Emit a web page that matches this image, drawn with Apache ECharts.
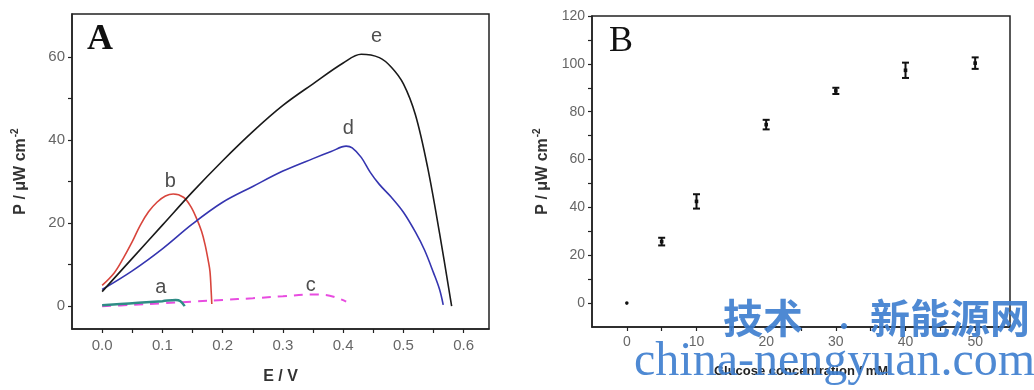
<!DOCTYPE html>
<html>
<head>
<meta charset="utf-8">
<script src="https://cdn.jsdelivr.net/npm/echarts@6/dist/echarts.min.js"></script>
<style>
html,body{margin:0;padding:0;background:#fff;}
#chart{width:1034px;height:390px;}
</style>
</head>
<body>
<div id="chart"></div>
<script>
// ---------- Panel A data (E / V , P / µW cm^-2) ----------
const curveA = [[0,0.2],[0.03,0.5],[0.06,0.8],[0.1,1.2],[0.122,1.5],[0.13,1.2],[0.137,0]];
const curveB = [[0,5],[0.02,8],[0.035,11.5],[0.05,15.5],[0.063,19.4],[0.077,22.7],[0.091,25],[0.105,26.5],[0.118,27],[0.135,26.2],[0.147,24],[0.157,21],[0.165,18],[0.171,14.7],[0.176,11],[0.179,8.3],[0.181,3.5],[0.182,0.5]];
const curveC = [[0,0],[0.05,0.3],[0.1,0.7],[0.15,1.1],[0.2,1.5],[0.25,1.9],[0.3,2.4],[0.35,2.8],[0.37,2.7],[0.39,2],[0.405,1.1]];
const curveD = [[0,4],[0.05,8.5],[0.1,13.8],[0.15,19.8],[0.2,25],[0.25,28.8],[0.3,32.5],[0.35,35.5],[0.38,37.2],[0.405,38.5],[0.415,38.1],[0.43,35.8],[0.445,32.2],[0.46,29.3],[0.48,26.2],[0.5,22.6],[0.52,17.8],[0.535,13.5],[0.55,8],[0.56,4],[0.566,0.3]];
const curveE = [[0,3.5],[0.05,11.5],[0.1,19.5],[0.15,27.5],[0.2,35],[0.25,42],[0.3,48.3],[0.35,53.5],[0.4,58.5],[0.43,60.6],[0.46,59.8],[0.48,57.5],[0.5,53.5],[0.52,46],[0.54,33.5],[0.56,17.5],[0.58,0]];
const curveNames = ['a','b','c','d','e'];
const curveLabelPos = [[0.0975,4.4],[0.113,30],[0.346,5],[0.4085,42.8],[0.4555,65]];
const aXTicks = [0,0.05,0.1,0.15,0.2,0.25,0.3,0.35,0.4,0.45,0.5,0.55,0.6];
const aXLabels = [0,0.1,0.2,0.3,0.4,0.5,0.6];
const aYTicks = [0,10,20,30,40,50,60];
const aYLabels = [0,20,40,60];

// ---------- Panel B data ----------
const concB = [0,5,10,20,30,40,50];
const powerB = [0,25.7,42.5,74.6,88.7,97.3,100.3];
const errB = [0,1.6,3,2,1.3,3.2,2.4];
const bXTicks = [0,5,10,15,20,25,30,35,40,45,50];
const bXLabels = [0,10,20,30,40,50];
const bYTicks = [0,10,20,30,40,50,60,70,80,90,100,110,120];
const bYLabels = [0,20,40,60,80,100,120];

const chart = echarts.init(document.getElementById('chart'), null, {renderer:'canvas'});

const axisLineStyle = {color:'#222', width:1.5};
const tickLabelStyle = {color:'#666', fontFamily:'Arial, Liberation Sans, sans-serif'};
const nameStyle = {color:'#333', fontWeight:'bold', fontSize:16, fontFamily:'Arial, Liberation Sans, sans-serif'};
const yNameRich = {
  rich:{
    t:{color:'#333', fontWeight:'bold', fontSize:16, fontFamily:'Arial, Liberation Sans, sans-serif', lineHeight:22},
    s:{color:'#333', fontWeight:'bold', fontSize:10, fontFamily:'Arial, Liberation Sans, sans-serif', verticalAlign:'top', lineHeight:22, padding:[0,0,0,1]}
  }
};

const errData = concB.map((x,i)=>[x, powerB[i], errB[i]]);

const option = {
  backgroundColor:'#fff',
  animation:false,
  grid:[
    {left:72, top:14, width:417, height:317, show:true, borderColor:'#222', borderWidth:1.5, containLabel:false},
    {left:592, top:16, width:418, height:311, show:true, borderColor:'#222', borderWidth:1.5, containLabel:false}
  ],
  xAxis:[
    {type:'value', gridIndex:0, min:-0.05, max:0.642,
     name:'E / V', nameLocation:'middle', nameGap:40, nameTextStyle:nameStyle,
     axisLine:{show:true, onZero:false, lineStyle:axisLineStyle},
     axisTick:{show:true, inside:false, length:4, lineStyle:{color:'#222', width:1.2}, customValues:aXTicks},
     axisLabel:{...tickLabelStyle, fontSize:15, margin:9, customValues:aXLabels, formatter:v=>Number(v).toFixed(1)},
     splitLine:{show:false}},
    {type:'value', gridIndex:1, min:-5, max:55,
     name:'Glucose concentration / mM', nameLocation:'middle', nameGap:38,
     nameTextStyle:{color:'#222', fontWeight:'bold', fontSize:13, fontFamily:'Arial, Liberation Sans, sans-serif'},
     axisLine:{show:true, onZero:false, lineStyle:axisLineStyle},
     axisTick:{show:true, inside:false, length:4, lineStyle:{color:'#222', width:1.2}, customValues:bXTicks},
     axisLabel:{...tickLabelStyle, fontSize:14, margin:8, customValues:bXLabels},
     splitLine:{show:false}}
  ],
  yAxis:[
    {type:'value', gridIndex:0, min:-5.5, max:70.3,
     name:'{t|P / μW cm}{s|-2}', nameLocation:'middle', nameGap:40, nameRotate:90, nameTextStyle:yNameRich,
     axisLine:{show:true, onZero:false, lineStyle:axisLineStyle},
     axisTick:{show:true, inside:false, length:4, lineStyle:{color:'#222', width:1.2}, customValues:aYTicks},
     axisLabel:{...tickLabelStyle, fontSize:15, margin:7, customValues:aYLabels},
     splitLine:{show:false}},
    {type:'value', gridIndex:1, min:-10, max:120,
     name:'{t|P / μW cm}{s|-2}', nameLocation:'middle', nameGap:38, nameRotate:90, nameTextStyle:yNameRich,
     axisLine:{show:true, onZero:false, lineStyle:axisLineStyle},
     axisTick:{show:true, inside:false, length:4, lineStyle:{color:'#222', width:1.2}, customValues:bYTicks},
     axisLabel:{...tickLabelStyle, fontSize:14, margin:7, customValues:bYLabels},
     splitLine:{show:false}}
  ],
  series:[
    {type:'line', name:'c', xAxisIndex:0, yAxisIndex:0, data:curveC, showSymbol:false, smooth:0.35,
     lineStyle:{color:'#e84ce0', width:2, type:[9,7]}, z:2},
    {type:'line', name:'a', xAxisIndex:0, yAxisIndex:0, data:curveA, showSymbol:false, smooth:0.35,
     lineStyle:{color:'#2f8c86', width:2.5}, z:3},
    {type:'line', name:'b', xAxisIndex:0, yAxisIndex:0, data:curveB, showSymbol:false, smooth:0.35,
     lineStyle:{color:'#d8453c', width:1.6}, z:3},
    {type:'line', name:'d', xAxisIndex:0, yAxisIndex:0, data:curveD, showSymbol:false, smooth:0.35,
     lineStyle:{color:'#3535b0', width:1.6}, z:3},
    {type:'line', name:'e', xAxisIndex:0, yAxisIndex:0, data:curveE, showSymbol:false, smooth:0.35,
     lineStyle:{color:'#1a1a1a', width:1.6}, z:4},
    {type:'scatter', xAxisIndex:0, yAxisIndex:0, symbolSize:0, silent:true,
     data:curveNames.map((n,i)=>({name:n, value:curveLabelPos[i]})),
     label:{show:true, position:'inside', formatter:p=>p.name, color:'#222', fontSize:20, fontFamily:'Arial, Liberation Sans, sans-serif'}, z:5},
    {type:'custom', xAxisIndex:1, yAxisIndex:1, data:errData, z:5,
     renderItem:function(params, api){
       const x = api.value(0), y = api.value(1), e = api.value(2);
       const c = api.coord([x,y]);
       if (e <= 0) {
         return {type:'circle', shape:{cx:c[0], cy:c[1], r:1.8}, style:{fill:'#111'}};
       }
       const lo = api.coord([x,y-e]), hi = api.coord([x,y+e]);
       const hw = 3.5;
       const st = {stroke:'#111', lineWidth:2};
       return {type:'group', children:[
         {type:'line', shape:{x1:c[0], y1:lo[1], x2:c[0], y2:hi[1]}, style:st},
         {type:'line', shape:{x1:c[0]-hw, y1:lo[1], x2:c[0]+hw, y2:lo[1]}, style:st},
         {type:'line', shape:{x1:c[0]-hw, y1:hi[1], x2:c[0]+hw, y2:hi[1]}, style:st},
         {type:'rect', shape:{x:c[0]-1.8, y:c[1]-1.8, width:3.6, height:3.6}, style:{fill:'#111'}}
       ]};
     }}
  ],
  graphic:[
    {type:'text', left:87, top:22, z:10, style:{text:'A', font:'bold 36px "Liberation Serif", serif', fill:'#111'}},
    {type:'text', left:609, top:24, z:10, style:{text:'B', font:'36px "Liberation Serif", serif', fill:'#111'}},
    {type:'text', left:723, top:298, z:20, style:{text:'技术', font:'bold 40px "Noto Sans CJK SC", sans-serif', fill:'#3f7fcf', opacity:0.92}},
    {type:'text', left:832, top:314, z:20, style:{text:'·', font:'bold 24px "Noto Sans CJK SC", sans-serif', fill:'#3f7fcf', opacity:0.92}},
    {type:'text', left:870, top:298, z:20, style:{text:'新能源网', font:'bold 40px "Noto Sans CJK SC", sans-serif', fill:'#3f7fcf', opacity:0.92}},
    {type:'text', left:634, top:338, z:20, style:{text:'china-nengyuan.com', font:'48px "Liberation Serif", serif', fill:'#3f7fcf', opacity:0.92}}
  ]
};
chart.setOption(option);
</script>
</body>
</html>
